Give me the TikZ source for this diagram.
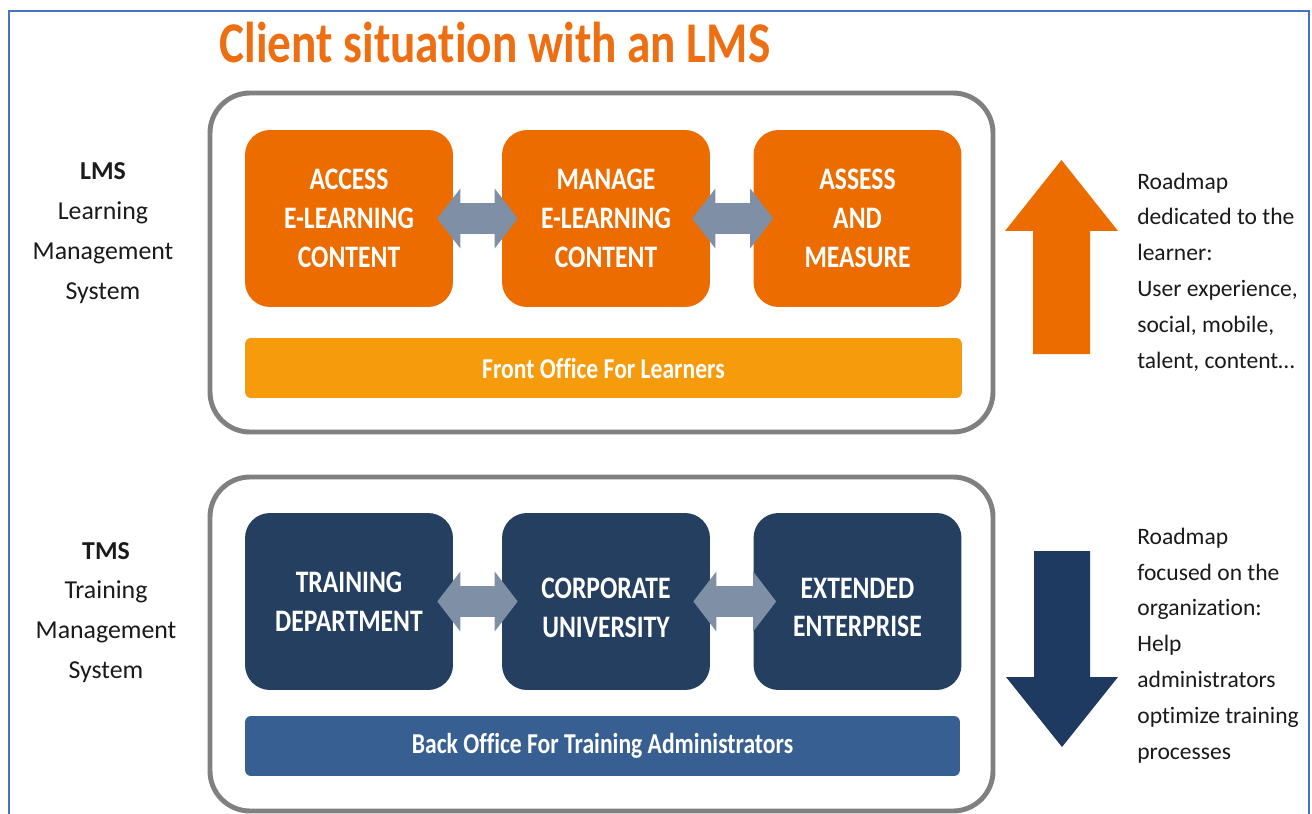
\documentclass[tikz,border=0pt]{standalone}
\usepackage{fontspec}
\setmainfont{Carlito}[Ligatures=NoCommon]
\newfontfamily\cond{Carlito}[FakeStretch=0.82,Ligatures=NoCommon]
\usetikzlibrary{arrows.meta}
\definecolor{frameblue}{HTML}{4472C4}
\definecolor{outergray}{HTML}{808080}
\definecolor{lmsorange}{HTML}{ED6C00}
\definecolor{titleorange}{HTML}{EE6E12}
\definecolor{frontorange}{HTML}{F59B0C}
\definecolor{tmsnavy}{HTML}{243F60}
\definecolor{backblue}{HTML}{375F92}
\definecolor{arrowgray}{HTML}{7F8FA6}
\definecolor{downnavy}{HTML}{1F3A60}
\definecolor{txt}{HTML}{1A1A1A}
\tikzset{
  outerbox/.style={draw=outergray, line width=2.8pt, rounded corners=0.8cm},
  obox/.style={fill=lmsorange, rounded corners=0.5cm, minimum width=4.16cm, minimum height=3.54cm,
    text=white, font=\cond\bfseries\fontsize{17.8}{22.1}\selectfont, align=center, inner sep=0pt},
  nbox/.style={obox, fill=tmsnavy},
  boxtext/.style={text=white, font=\cond\bfseries\fontsize{17.8}{22.1}\selectfont, align=center, inner sep=0pt},
  barbox/.style={rounded corners=0.12cm, minimum width=14.34cm, minimum height=1.2cm,
    text=white, font=\cond\bfseries\fontsize{16.4}{20}\selectfont, inner sep=0pt},
  dbl/.style={draw=arrowgray, line width=0.62cm,
    {Triangle[length=0.46cm,width=1.2cm,line width=0pt]}-{Triangle[length=0.46cm,width=1.2cm,line width=0pt]}},
  lefttext/.style={align=center, inner sep=0pt, text=txt, font=\fontsize{14.7}{22.7}\selectfont},
  righttext/.style={align=left, anchor=west, inner sep=0pt, text=txt, font=\fontsize{13.4}{20.4}\selectfont},
}
\begin{document}
\begin{tikzpicture}[x=0.02cm,y=-0.02cm]
\clip (0,0) rectangle (1312,814);
\fill[white] (0,0) rectangle (1312,814);
\draw[frameblue, line width=1.2pt] (9,11) rectangle (1309,860);

% title
\node[anchor=base, inner sep=0pt, text=titleorange, font=\cond\bfseries\fontsize{32.8}{36}\selectfont] (title) at (495,63) {Client situation with an LMS};

% outer frames
\draw[outerbox] (210,93) rectangle (993,432);
\draw[outerbox] (210,477) rectangle (993,811);

% LMS boxes
\node[obox] (a1) at (349,218.5) {ACCESS\\E-LEARNING\\CONTENT};
\node[obox] (a2) at (606,218.5) {MANAGE\\E-LEARNING\\CONTENT};
\node[obox] (a3) at (857.5,218.5) {ASSESS\\AND\\MEASURE};
\node[barbox, fill=frontorange] (fo) at (603.5,368) {Front Office For Learners};
\draw[dbl] ([xshift=-0.32cm]a1.east) -- ([xshift=0.32cm]a2.west);
\draw[dbl] ([xshift=-0.36cm]a2.east) -- ([xshift=0.4cm]a3.west);

% TMS boxes
\node[nbox] (b1) at (349,601.5) {TRAINING\\DEPARTMENT};
\node[nbox] (b2) at (606,601.5) {};
\node[boxtext] (b2t) at (606,607.5) {CORPORATE\\UNIVERSITY};
\node[nbox] (b3) at (857.5,601.5) {};
\node[boxtext] (b3t) at (857.5,607.5) {EXTENDED\\ENTERPRISE};
\node[barbox, fill=backblue, minimum width=14.3cm] (bo) at (602.5,746) {Back Office For Training Administrators};
\draw[dbl] ([xshift=-0.32cm]b1.east) -- ([xshift=0.32cm]b2.west);
\draw[dbl] ([xshift=-0.34cm]b2.east) -- ([xshift=0.46cm]b3.west);

% left labels
\node[lefttext] (lms) at (103,233) {\textbf{LMS}\\Learning\\Management\\System};
\node[lefttext] (tms) at (106,612.5) {\textbf{TMS}\\Training\\Management\\System};

% big arrows
\fill[lmsorange] (1033,354) -- (1033,231) -- (1005,231) -- (1061.5,160) -- (1118,231) -- (1090,231) -- (1090,354) -- cycle;
\fill[downnavy] (1034,551) -- (1090,551) -- (1090,677) -- (1118,677) -- (1062,747) -- (1006,677) -- (1034,677) -- cycle;

% right labels
\node[righttext] (r1) at (1137,272) {Roadmap\\dedicated to the\\learner:\\User experience,\\social, mobile,\\talent, content\dots};
\node[righttext] (r2) at (1137,645.5) {Roadmap\\focused on the\\organization:\\Help\\administrators\\optimize training\\processes};
\end{tikzpicture}
\end{document}
